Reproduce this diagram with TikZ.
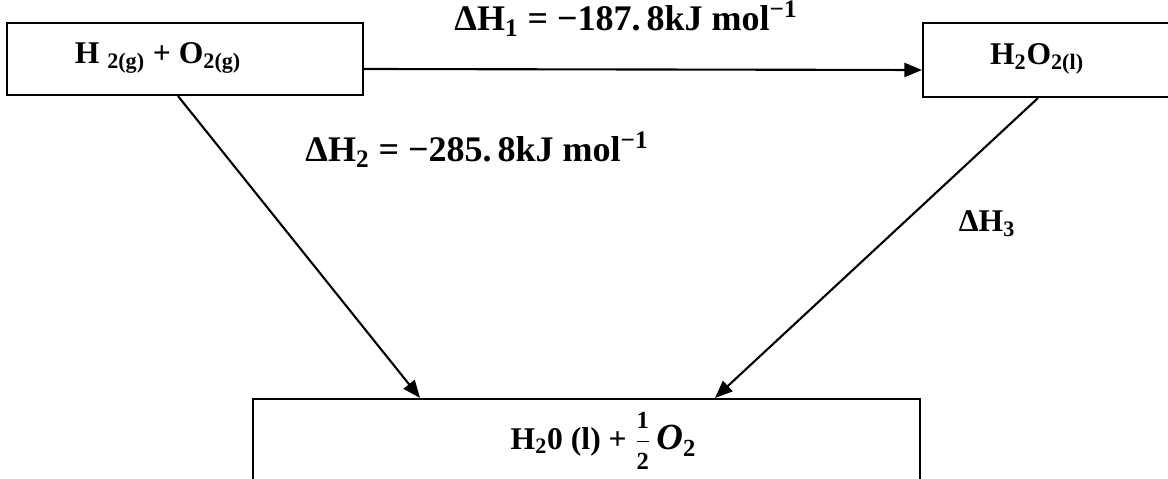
\documentclass[tikz,border=0pt]{standalone}
\usepackage{amsmath}
\usepackage{fontspec}
\setmainfont{Liberation Serif}
\usetikzlibrary{arrows.meta, positioning, calc}
\tikzset{
  species/.style={
    rectangle, draw=black, line width=1.2pt, fill=white,
    inner sep=0pt
  },
  formula/.style={
    anchor=base, inner sep=0pt,
    font=\fontsize{18}{22}\selectfont\bfseries
  },
  enthalpy/.style={
    anchor=base, inner sep=0pt,
    font=\fontsize{20.5}{24}\selectfont\bfseries
  },
  arrow/.style={-{Triangle[length=10pt,width=8pt]}, line width=1.2pt, draw=black}
}

\begin{document}
\begin{tikzpicture}[x=0.02cm, y=-0.02cm]
  \useasboundingbox (0,0) rectangle (1168,479);
  % boxes
  \node[species, minimum width=7.12cm, minimum height=1.44cm] (reactants) at (185,59) {};
  \node[species, minimum width=5.04cm, minimum height=1.48cm] (peroxide) at (1049,60) {};
  \node[species, minimum width=13.34cm, minimum height=1.66cm] (products) at (586.5,440.5) {};
  % formulas
  \node[formula] (reactantsText) at (158,64) {H \textsubscript{2(g)} + O\textsubscript{2(g)}};
  \node[formula] (peroxideText) at (1037,65) {H\textsubscript{2}O\textsubscript{2(l)}};
  \node[formula] (productsText) at (603,449)
    {H\textsubscript{2}0 (l) + $\genfrac{}{}{0.8pt}{0}{\text{\fontsize{14}{14}\selectfont\bfseries 1}}{\text{\fontsize{14}{14}\selectfont\bfseries 2}}$\,{\fontsize{21}{22}\selectfont\textit{O}}\raisebox{-0.25em}{\fontsize{14}{14}\selectfont 2}};
  % enthalpy changes
  \node[enthalpy] (dHone) at (626,31) {ΔH\textsubscript{1} = −187.\,8kJ mol\textsuperscript{−1}};
  \node[enthalpy] (dHtwo) at (477,162) {ΔH\textsubscript{2} = −285.\,8kJ mol\textsuperscript{−1}};
  \node[formula] (dHthree) at (987,232) {ΔH\textsubscript{3}};
  % arrows
  \draw[arrow] ([yshift=-0.2cm]reactants.east) -- ([yshift=-0.2cm]peroxide.west);
  \draw[arrow] ([xshift=-0.14cm]reactants.south) -- ([xshift=-3.33cm]products.north);
  \draw[arrow] ([xshift=-0.22cm]peroxide.south) -- ([xshift=2.57cm]products.north);
\end{tikzpicture}
\end{document}
